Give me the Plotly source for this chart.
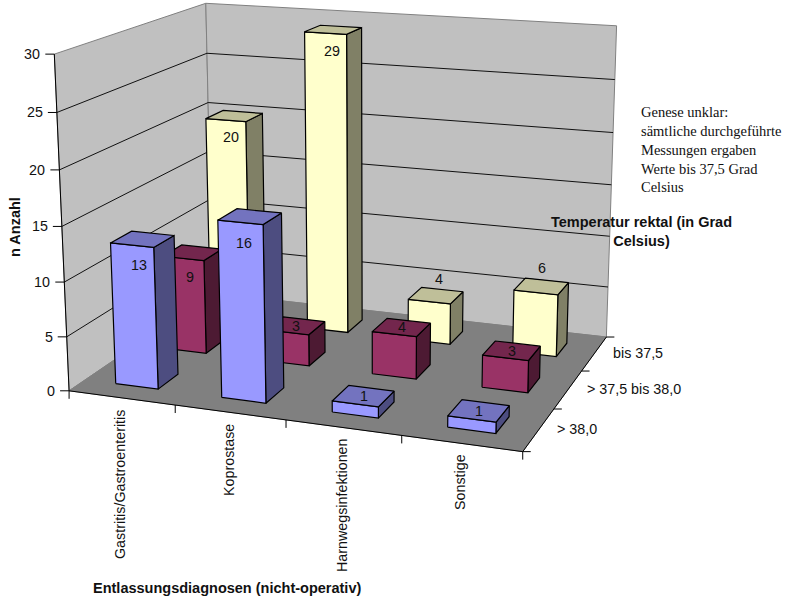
import numpy as np
import plotly.graph_objects as go

# Chart data
categories = ["Gastritis/Gastroenteritis", "Koprostase", "Harnwegsinfektionen", "Sonstige"]
series_names = ["> 38,0", "> 37,5 bis 38,0", "bis 37,5"]
blue_values = [13, 16, 1, 1]
maroon_values = [9, 3, 4, 3]
yellow_values = [20, 29, 4, 6]
value_ticks = [0, 5, 10, 15, 20, 25, 30]

# Box extents in data units: categories across, series in depth, values upward
N_CAT, N_SER, Z_MAX = 4, 3, 30
BAR_W, BAR_D = 0.405, 0.40

# Page position of known box points, used to solve the perspective camera
box_anchors = [
    ((0, 0, 0), (69, 391)), ((4, 0, 0), (522, 451)), ((4, 3, 0), (606, 337)),
    ((0, 3, 0), (213, 293)), ((0, 0, 30), (55, 54)), ((0, 3, 30), (205, 3)),
    ((4, 3, 30), (617, 26)), ((1, 0, 0), (175, 405)), ((2, 0, 0), (286, 420)),
    ((3, 0, 0), (401, 437)), ((4, 1, 0), (555, 408)), ((4, 2, 0), (582, 371)),
    ((0, 0, 15), (62, 226)), ((0, 3, 20), (208, 103)), ((4, 3, 15), (611, 185)),
]


def solve_camera(anchors):
    rows, rhs = [], []
    for (X, Y, Z), (u, v) in anchors:
        rows.append([X, Y, Z, 1, 0, 0, 0, 0, -u * X, -u * Y, -u * Z])
        rhs.append(u)
        rows.append([0, 0, 0, 0, X, Y, Z, 1, -v * X, -v * Y, -v * Z])
        rhs.append(v)
    sol = np.linalg.lstsq(np.array(rows, float), np.array(rhs, float), rcond=None)[0]
    return np.append(sol, 1.0).reshape(3, 4)


CAMERA = solve_camera(box_anchors)


def project(X, Y, Z):
    u, v, w = CAMERA @ np.array([X, Y, Z, 1.0])
    return u / w, v / w


fig = go.Figure()


def polygon(points, fill, line="black", width=1.2):
    pts = [project(*p) for p in points]
    xs = [p[0] for p in pts] + [pts[0][0]]
    ys = [p[1] for p in pts] + [pts[0][1]]
    fig.add_trace(go.Scatter(x=xs, y=ys, mode="lines", fill="toself", fillcolor=fill,
                             line=dict(color=line, width=width), hoverinfo="skip",
                             showlegend=False))


def segment(p, q, color="black", width=1.0):
    a, b = project(*p), project(*q)
    fig.add_trace(go.Scatter(x=[a[0], b[0]], y=[a[1], b[1]], mode="lines",
                             line=dict(color=color, width=width), hoverinfo="skip",
                             showlegend=False))


def offset_segment(p, dx, dy, width=1.0):
    a = project(*p)
    fig.add_trace(go.Scatter(x=[a[0], a[0] + dx], y=[a[1], a[1] + dy], mode="lines",
                             line=dict(color="black", width=width), hoverinfo="skip",
                             showlegend=False))


GRID = "#808080"
# Walls and floor
polygon([(0, 0, 0), (0, 3, 0), (0, 3, 30), (0, 0, 30)], "#C0C0C0", GRID, 1.0)
polygon([(0, 3, 0), (4, 3, 0), (4, 3, 30), (0, 3, 30)], "#C0C0C0", GRID, 1.0)

# Gridlines on both walls
for z in value_ticks[1:-1]:
    segment((0, 0, z), (0, 3, z), "#111111", 1.0)
    segment((0, 3, z), (4, 3, z), "#111111", 1.0)

polygon([(0, 0, 0), (4, 0, 0), (4, 3, 0), (0, 3, 0)], "#808080", "#808080", 1.0)

# Axis lines
segment((0, 0, 0), (0, 0, 30), "black", 1.0)
segment((0, 0, 0), (4, 0, 0), "black", 1.0)
segment((4, 0, 0), (4, 3, 0), "black", 1.0)

# Tick marks on the three axes
for z in value_ticks:
    offset_segment((0, 0, z), -9, 0)
for i in range(N_CAT + 1):
    offset_segment((i, 0, 0), 0, 8)
for j in range(N_SER + 1):
    offset_segment((4, j, 0), 8, 0)

# Bars, painted from the back row to the front row
rows = [
    (2, yellow_values, ("#FFFFCC", "#BFBF99", "#808066")),
    (1, maroon_values, ("#993366", "#73264D", "#4D1A33")),
    (0, blue_values, ("#9999FF", "#7373BF", "#4D4D80")),
]
# Label displacement from the centre of each bar's top face
label_shift = {
    2: [(-4, 21), (-2, 21), (3, -17), (0, -18)],
    1: [(-3, 24), (0, 0), (0, 0), (0, 0)],
    0: [(-4, 26), (-6, 26), (0, 0), (0, 0)],
}
labels = []
for row, values, (front, top, side) in rows:
    y0 = row + (1 - BAR_D) / 2
    y1 = y0 + BAR_D
    for i, val in enumerate(values):
        x0 = i + (1 - BAR_W) / 2 - 0.005
        x1 = x0 + BAR_W
        polygon([(x1, y0, 0), (x1, y1, 0), (x1, y1, val), (x1, y0, val)], side)
        polygon([(x0, y0, 0), (x1, y0, 0), (x1, y0, val), (x0, y0, val)], front)
        polygon([(x0, y0, val), (x1, y0, val), (x1, y1, val), (x0, y1, val)], top)
        cx, cy = project(i + 0.5, row + 0.5, val)
        dx, dy = label_shift[row][i]
        labels.append((cx + dx, cy + dy, str(val)))

ARIAL = "Liberation Sans"
SERIF = "Liberation Serif"
TEXT = "#111111"


def note(x, y, text, size=14.3, family=ARIAL, bold=False, angle=0, xanchor="center", align="center"):
    fig.add_annotation(x=x, y=y, xref="x", yref="y", text=f"<b>{text}</b>" if bold else text,
                       showarrow=False, textangle=angle, xanchor=xanchor, yanchor="middle",
                       align=align, font=dict(family=family, size=size, color=TEXT))


# Value labels on the bars
for lx, ly, text in labels:
    note(lx, ly, text)

# Value axis labels
for z in value_ticks:
    tx, ty = project(0, 0, z)
    note(tx - 12, ty, str(z), xanchor="right")

# Category labels, read bottom to top
for name, pos in zip(categories, [(120, 485), (229, 460), (342, 505), (460, 482)]):
    note(pos[0], pos[1], name, angle=-90)

# Depth axis labels
for name, pos in zip(series_names, [(577, 429), (634, 389), (638, 353)]):
    note(pos[0], pos[1], name)

# Axis titles
note(15, 227, "n Anzahl", bold=True, angle=-90, size=14.5)
note(227, 588, "Entlassungsdiagnosen (nicht-operativ)", bold=True, size=14.5)
note(641, 231, "Temperatur rektal (in Grad<br>Celsius)", bold=True, size=14.5)

# Free-standing comment beside the chart
note(639, 149,
     "Genese unklar:<br>sämtliche durchgeführte<br>Messungen ergaben<br>Werte bis 37,5 Grad<br>Celsius",
     size=14.5, family=SERIF, xanchor="left", align="left")

fig.update_layout(
    width=793, height=598, margin=dict(l=0, r=0, t=0, b=0),
    paper_bgcolor="white", plot_bgcolor="white", showlegend=False,
    xaxis=dict(range=[0, 793], visible=False, fixedrange=True),
    yaxis=dict(range=[598, 0], visible=False, fixedrange=True),
)
fig.write_html("out.html")
